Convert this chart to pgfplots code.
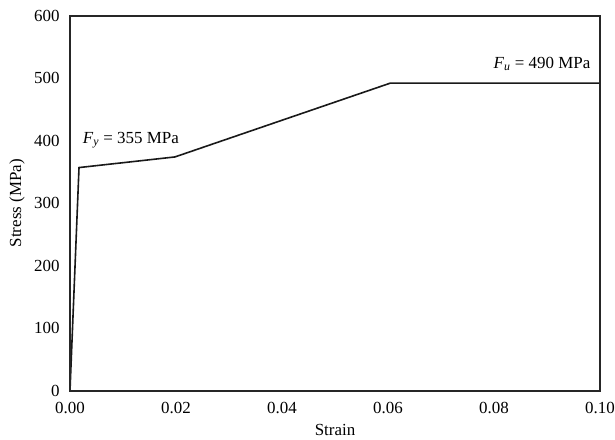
\documentclass[border=0pt]{standalone}
\usepackage{fontspec}
\setmainfont{Liberation Serif}
\usepackage{pgfplots}
\pgfplotsset{compat=1.18}
\begin{document}
\begin{tikzpicture}[x=1bp,y=1bp]
\path[use as bounding box] (0,0) rectangle (615,440);
\begin{axis}[
  at={(70bp,49.3bp)}, anchor=south west,
  scale only axis, width=530bp, height=375bp,
  xmin=0, xmax=0.1, ymin=0, ymax=600,
  xtick={0,0.02,...,0.1}, ytick={0,100,...,600},
  xticklabel style={/pgf/number format/fixed, /pgf/number format/fixed zerofill, /pgf/number format/precision=2},
  /pgf/number format/assume math mode=true,
  tick style={draw=none},
  axis line style={line width=1.8bp, draw=black!85},
  ticklabel style={font=\fontsize{17}{20}\selectfont},
  xticklabel style={yshift=-8bp},
  yticklabel style={xshift=-7bp},
  label style={font=\fontsize{17}{20}\selectfont},
  xlabel={Strain}, ylabel={Stress (MPa)},
  xlabel style={at={(axis description cs:0.5,0)}, anchor=center, yshift=-39bp},
  ylabel style={at={(axis description cs:0,0.5)}, anchor=center, yshift=53bp},
  axis on top,
  clip=false,
]
\addplot[black!90, line width=1.6bp] coordinates {
 (0,0) (0.0017,357) (0.0198,374) (0.0604,492) (0.1,492)
};
\node[anchor=west, font=\fontsize{17}{20}\selectfont, inner sep=0pt] at (axis cs:0.0024,401) {\textit{F}\textsubscript{\textit{y}} = 355 MPa};
\node[anchor=east, font=\fontsize{17}{20}\selectfont, inner sep=0pt] at (axis cs:0.0982,523) {\textit{F}\textsubscript{\textit{u}} = 490 MPa};
\end{axis}
\end{tikzpicture}
\end{document}
